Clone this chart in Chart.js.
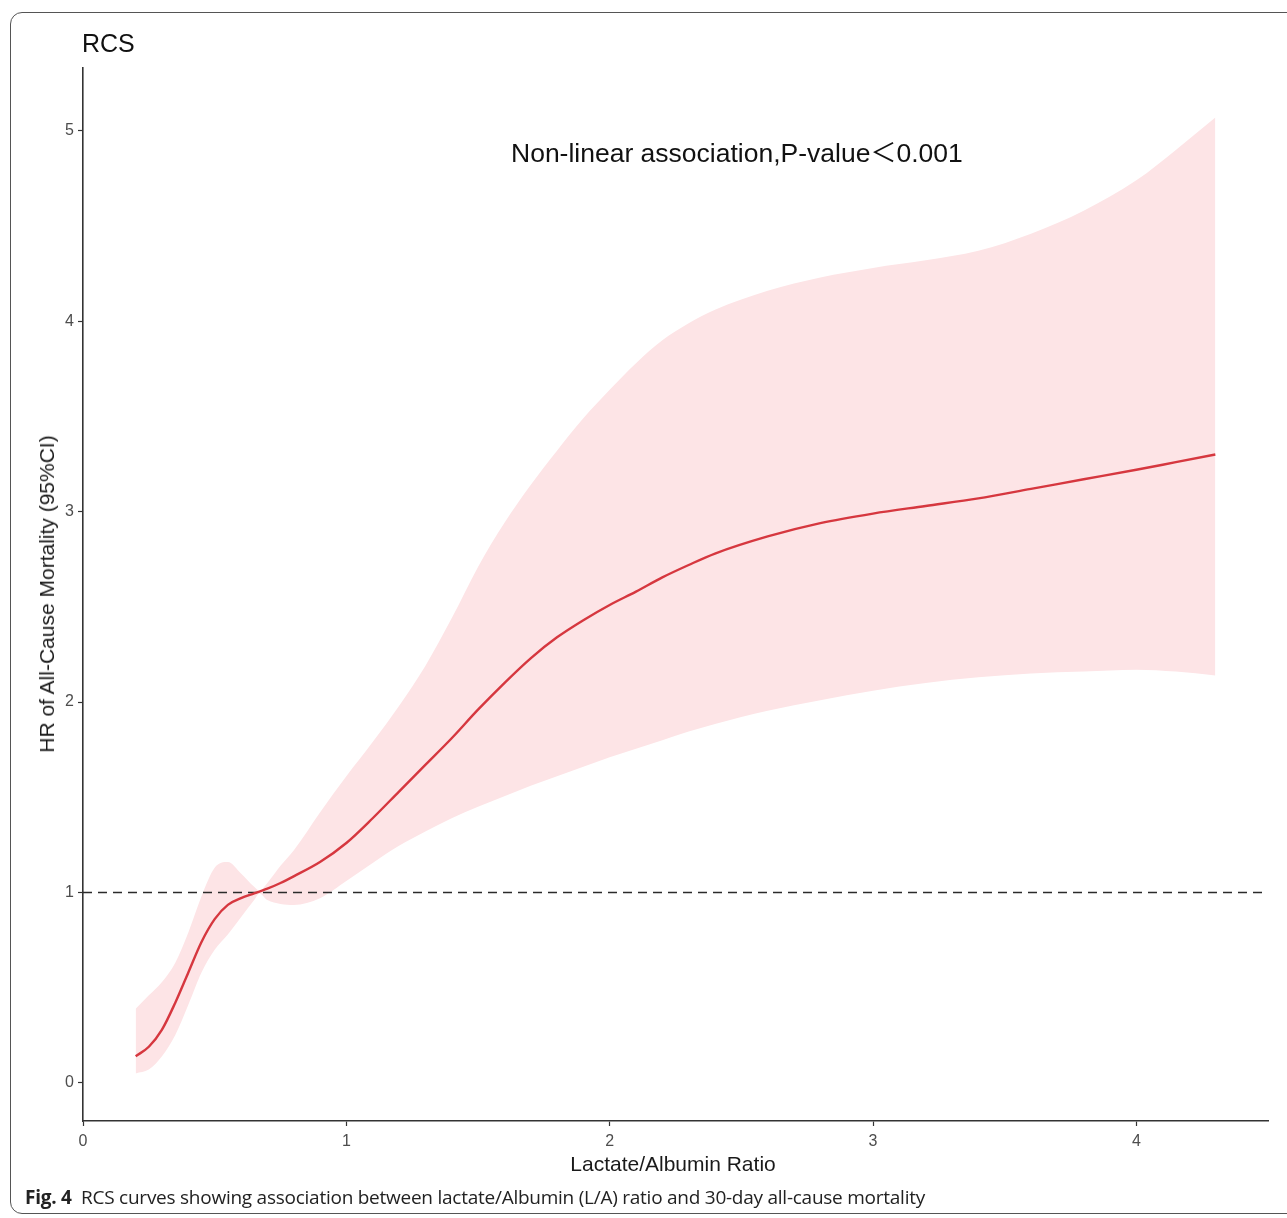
<!DOCTYPE html>
<html>
<head>
<meta charset="utf-8">
<script src="https://cdn.jsdelivr.net/npm/chart.js@4/dist/chart.umd.min.js"></script>
<style>
  html, body { margin: 0; padding: 0; background: #fff; width: 1287px; height: 1218px; overflow: hidden; }
  #frame { position: absolute; left: 10px; top: 12px; width: 1300px; height: 1202px; border: 1.3px solid #555; border-radius: 12px; box-sizing: border-box; }
  canvas { position: absolute; left: 0; top: 0; }
  .t { position: absolute; white-space: nowrap; font-family: "Liberation Sans", Arial, sans-serif; color: #111; }
  #rcs { left: 82px; top: 29px; font-size: 25px; }
  #note { left: 511px; top: 132px; font-size: 26.5px; }
  #note .lt { font-family: "Noto Sans CJK SC", sans-serif; font-size: 26px; }
  #ytitle { left: 47px; top: 594px; font-size: 21px; transform: translate(-50%, -50%) rotate(-90deg); color: #1a1a1a; }
  #xtitle { left: 673px; top: 1164px; font-size: 21px; transform: translate(-50%, -50%); color: #1a1a1a; }
  #caption { left: 25px; top: 1184px; font-family: "Open Sans", "Noto Sans", sans-serif; font-size: 19px; color: #222; letter-spacing: -0.25px; }
  #caption b { font-weight: 700; }
</style>
</head>
<body>
<div id="frame"></div>
<canvas id="c" width="1287" height="1218"></canvas>
<div class="t" id="rcs">RCS</div>
<div class="t" id="note">Non-linear association,P-value<span class="lt">＜</span>0.001</div>
<div class="t" id="ytitle">HR of All-Cause Mortality (95%CI)</div>
<div class="t" id="xtitle">Lactate/Albumin Ratio</div>
<div class="t" id="caption"><b>Fig. 4</b>&nbsp; RCS curves showing association between lactate/Albumin (L/A) ratio and 30-day all-cause mortality</div>
<script>
// Lactate/Albumin ratio sample points
const ratio = [0.20, 0.25, 0.30, 0.35, 0.40, 0.45, 0.50, 0.55, 0.60, 0.65, 0.67, 0.70, 0.75, 0.80, 0.90,
               1.0, 1.1, 1.2, 1.3, 1.4, 1.5, 1.6, 1.7, 1.8, 1.9, 2.0, 2.1, 2.2, 2.3, 2.4, 2.6, 2.8,
               3.0, 3.2, 3.4, 3.6, 3.8, 4.0, 4.15, 4.30];
// Hazard ratio (centre line)
const hr = [0.14, 0.19, 0.28, 0.42, 0.58, 0.74, 0.86, 0.935, 0.97, 0.995, 1.005, 1.02, 1.05, 1.085, 1.16,
            1.26, 1.39, 1.53, 1.67, 1.81, 1.96, 2.10, 2.23, 2.34, 2.43, 2.51, 2.58, 2.655, 2.72, 2.78, 2.87, 2.94,
            2.99, 3.03, 3.07, 3.12, 3.17, 3.22, 3.26, 3.30];
// 95% CI upper bound
const ciUpper = [0.39, 0.46, 0.53, 0.63, 0.79, 0.98, 1.13, 1.16, 1.10, 1.03, 1.01, 1.05, 1.14, 1.22, 1.42,
                 1.61, 1.79, 1.98, 2.19, 2.44, 2.71, 2.94, 3.14, 3.32, 3.49, 3.64, 3.78, 3.90, 3.99, 4.06, 4.16, 4.23,
                 4.28, 4.32, 4.37, 4.46, 4.58, 4.74, 4.90, 5.07];
// 95% CI lower bound
const ciLower = [0.05, 0.07, 0.14, 0.25, 0.41, 0.58, 0.70, 0.78, 0.87, 0.96, 0.995, 0.96, 0.94, 0.935, 0.97,
                 1.06, 1.155, 1.245, 1.32, 1.39, 1.45, 1.505, 1.56, 1.61, 1.66, 1.71, 1.755, 1.80, 1.845, 1.885, 1.955, 2.01,
                 2.06, 2.10, 2.13, 2.15, 2.16, 2.17, 2.16, 2.14];
// Reference HR line
const refHR = 1;
const xTicks = [0, 1, 2, 3, 4];
const yTicks = [0, 1, 2, 3, 4, 5];
const xRange = [0, 4.5];
const yRange = [-0.2, 5.33];

const pts = arr => ratio.map((x, i) => ({ x: x, y: arr[i] }));

new Chart(document.getElementById('c'), {
  type: 'line',
  data: {
    datasets: [
      { label: 'upper', data: pts(ciUpper), borderWidth: 0, borderColor: 'rgba(0,0,0,0)', backgroundColor: '#fde4e6',
        fill: '+1', pointRadius: 0, cubicInterpolationMode: 'monotone', order: 3 },
      { label: 'lower', data: pts(ciLower), borderWidth: 0, borderColor: 'rgba(0,0,0,0)', fill: false,
        pointRadius: 0, cubicInterpolationMode: 'monotone', order: 4 },
      { label: 'ref', data: xRange.map(x => ({ x: x, y: refHR })), borderColor: '#2b2b2b', borderWidth: 1.6,
        borderDash: [9, 6], pointRadius: 0, fill: false, order: 1 },
      { label: 'HR', data: pts(hr), borderColor: '#d6373f', borderWidth: 2.4, pointRadius: 0, fill: false,
        cubicInterpolationMode: 'monotone', order: 0 }
    ]
  },
  options: {
    responsive: false,
    animation: false,
    events: [],
    layout: { padding: { top: 68, right: 19, left: 0, bottom: 0 } },
    plugins: { legend: { display: false }, tooltip: { enabled: false }, title: { display: false } },
    scales: {
      x: {
        type: 'linear', min: xRange[0], max: xRange[1],
        afterFit: s => { s.height = 97; },
        afterBuildTicks: s => { s.ticks = xTicks.map(v => ({ value: v })); },
        grid: { drawOnChartArea: false, drawTicks: true, tickLength: 5, tickColor: '#333', tickWidth: 1.2 },
        border: { display: true, color: '#333', width: 1.6 },
        ticks: { color: '#4d4d4d', font: { family: 'Liberation Sans', size: 16 }, padding: 6, autoSkip: false, maxRotation: 0 }
      },
      y: {
        type: 'linear', min: yRange[0], max: yRange[1],
        afterFit: s => { s.width = 83; },
        afterBuildTicks: s => { s.ticks = yTicks.map(v => ({ value: v })); },
        grid: { drawOnChartArea: false, drawTicks: true, tickLength: 5, tickColor: '#333', tickWidth: 1.2 },
        border: { display: true, color: '#333', width: 1.6 },
        ticks: { color: '#4d4d4d', font: { family: 'Liberation Sans', size: 16 }, padding: 4, autoSkip: false }
      }
    }
  }
});
</script>
</body>
</html>
